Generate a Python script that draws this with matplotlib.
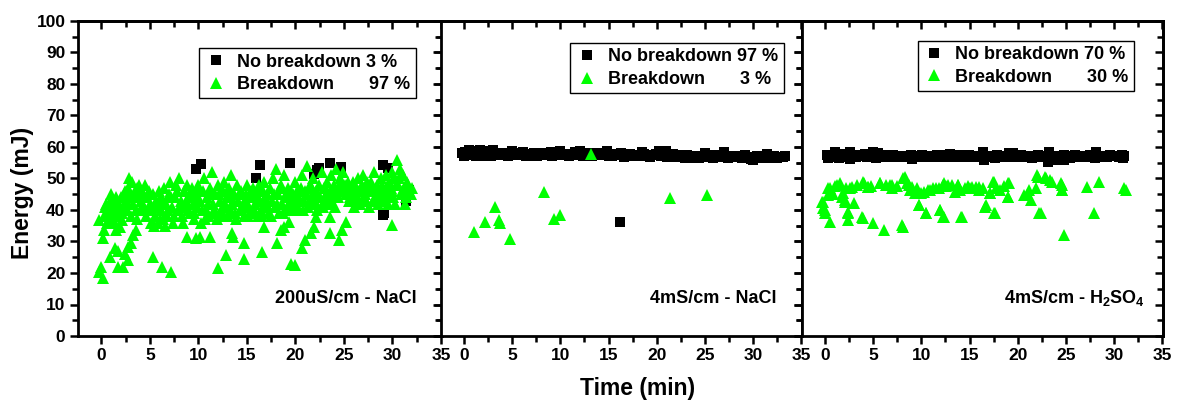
import matplotlib
matplotlib.use("Agg")
import matplotlib.pyplot as plt
from matplotlib.lines import Line2D
from matplotlib.ticker import MultipleLocator

plt.rcParams['font.family'] = ['Liberation Sans', 'DejaVu Sans']
plt.rcParams['font.weight'] = 'bold'
plt.rcParams['mathtext.fontset'] = 'custom'
plt.rcParams['mathtext.rm'] = 'Liberation Sans:bold'
plt.rcParams['mathtext.it'] = 'Liberation Sans:bold'
plt.rcParams['mathtext.bf'] = 'Liberation Sans:bold'
plt.rcParams['mathtext.default'] = 'rm'

# ---------------- Panel 1: 200uS/cm - NaCl ----------------
p1_nobd_x = [9.75, 10.3, 15.9, 16.4, 19.4, 21.9, 22.2, 22.4, 23.6, 24.7, 29.0, 29.5, 29.1, 31.7, 31.4, 29.0]
p1_nobd_y = [52.9, 54.5, 50.2, 54.2, 55.0, 51.5, 52.6, 53.2, 54.8, 53.5, 54.2, 53.2, 38.9, 46.3, 43.0, 38.4]

p1_bd_x = [
    0.3, 0.4, 0.6, 0.7, 0.9, 1.0, 1.1, 1.3, 1.4, 1.6, 1.8, 2.0, 2.2, 2.3, 2.5, 2.6, 2.8, 2.9, 3.0, 3.2,
    3.3, 3.5, 3.6, 3.8, 3.9, 4.1, 4.2, 4.4, 4.5, 4.7, 4.8, 5.0, 5.1, 5.3, 5.5, 5.6, 5.8, 5.9, 6.1, 6.2,
    6.4, 6.5, 6.7, 6.8, 7.0, 7.1, 7.3, 7.4, 7.6, 7.7, 7.9, 8.0, 8.2, 8.3, 8.5, 8.6, 8.8, 9.0, 9.1, 9.3,
    9.4, 9.6, 9.7, 9.9, 10.0, 10.2, 10.3, 10.5, 10.6, 10.8, 10.9, 11.1, 11.2, 11.4, 11.5, 11.7, 11.8, 12.0, 12.2, 12.3,
    12.5, 12.6, 12.8, 12.9, 13.1, 13.2, 13.4, 13.5, 13.7, 13.8, 14.0, 14.1, 14.3, 14.4, 14.6, 14.7, 14.9, 15.0, 15.2, 15.3,
    15.5, 15.6, 15.8, 15.9, 16.1, 16.2, 16.4, 16.5, 16.7, 16.8, 17.0, 17.1, 17.3, 17.4, 17.6, 17.7, 17.9, 18.0, 18.2, 18.3,
    18.5, 18.6, 18.8, 18.9, 19.1, 19.2, 19.4, 19.5, 19.7, 19.8, 20.0, 20.1, 20.3, 20.4, 20.6, 20.7, 20.9, 21.0, 21.2, 21.3,
    21.5, 21.6, 21.8, 21.9, 22.1, 22.2, 22.4, 22.5, 22.7, 22.8, 23.0, 23.1, 23.3, 23.4, 23.6, 23.7, 23.9, 24.0, 24.2, 24.3,
    24.5, 24.6, 24.8, 24.9, 25.1, 25.2, 25.4, 25.5, 25.7, 25.8, 26.0, 26.1, 26.3, 26.4, 26.6, 26.7, 26.9, 27.0, 27.2, 27.3,
    27.5, 27.6, 27.8, 27.9, 28.1, 28.2, 28.4, 28.5, 28.7, 28.8, 29.0, 29.1, 29.3, 29.4, 29.6, 29.7, 29.9, 30.0, 30.2, 30.3,
    30.5, 30.6, 30.8, 30.9, 31.1, 31.2, 31.4, 31.5, 31.7, 31.9, 32.0,
    # second pass through the dense band
    0.5, 0.8, 1.2, 1.5, 1.7, 2.1, 2.4, 2.7, 3.1, 3.4, 3.7, 4.0, 4.3, 4.6, 4.9, 5.2, 5.4, 5.7, 6.0, 6.3,
    6.6, 6.9, 7.2, 7.5, 7.8, 8.1, 8.4, 8.7, 8.9, 9.2, 9.5, 9.8, 10.1, 10.4, 10.7, 11.0, 11.3, 11.6, 11.9, 12.1,
    12.4, 12.7, 13.0, 13.3, 13.6, 13.9, 14.2, 14.5, 14.8, 15.1, 15.4, 15.7, 16.0, 16.3, 16.6, 16.9, 17.2, 17.5, 17.8, 18.1,
    18.4, 18.7, 19.0, 19.3, 19.6, 19.9, 20.2, 20.5, 20.8, 21.1, 21.4, 21.7, 22.0, 22.3, 22.6, 22.9, 23.2, 23.5, 23.8, 24.1,
    24.4, 24.7, 25.0, 25.3, 25.6, 25.9, 26.2, 26.5, 26.8, 27.1, 27.4, 27.7, 28.0, 28.3, 28.6, 28.9, 29.2, 29.5, 29.8, 30.1,
    30.4, 30.7, 31.0, 31.3, 31.6,
    # lower scattered points
    -0.2, 0.2, 0.0, 0.2, 0.3, -0.2, 0.5, 0.9, 1.2, 0.9, 1.4, 1.7, 1.5, 1.9, 2.1, 1.7, 2.2, 2.4, 2.8, 3.1,
    2.8, 3.3, 3.6, 3.7, 5.3, 6.3, 7.2, 8.8, 9.8, 10.2, 11.2, 12.0, 12.8, 13.5, 13.6, 14.7, 14.7, 16.6, 16.8, 18.1,
    18.5, 18.8, 19.3, 19.5, 20.0, 20.7, 21.0, 21.6, 21.9, 22.1, 23.6, 23.6, 24.1, 24.5, 24.8, 25.2, 30.0,
]
p1_bd_y = [
    38, 41, 36, 40, 43, 45, 38, 42, 36, 40, 42, 44, 41, 45, 43, 40, 47, 50, 44, 49,
    42, 46, 40, 44, 48, 43, 46, 41, 48, 44, 40, 42, 36, 45, 38, 43, 36, 46, 40, 44,
    37, 47, 42, 38, 45, 49, 41, 36, 44, 48, 40, 50, 43, 38, 46, 41, 48, 44, 39, 47,
    42, 37, 45, 41, 48, 43, 36, 46, 50, 40, 44, 38, 47, 52, 42, 45, 39, 48, 43, 40,
    46, 49, 41, 44, 38, 47, 51, 42, 45, 39, 48, 43, 40, 46, 42, 38, 45, 48, 41, 44,
    39, 47, 42, 45, 38, 48, 43, 40, 46, 49, 42, 45, 39, 47, 43, 50, 41, 53, 45, 39,
    48, 42, 51, 44, 40, 47, 43, 46, 41, 45, 49, 42, 44, 40, 47, 51, 43, 46, 54, 41,
    48, 44, 50, 42, 46, 40, 48, 44, 52, 41, 47, 45, 49, 42, 46, 51, 44, 48, 53, 45,
    47, 50, 46, 52, 48, 45, 49, 43, 47, 45, 41, 48, 44, 50, 46, 42, 48, 51, 45, 43,
    47, 41, 49, 46, 52, 44, 48, 42, 46, 50, 45, 43, 51, 47, 49, 44, 52, 46, 50, 42,
    56, 48, 53, 45, 51, 47, 44, 49, 46, 45, 47,
    42, 37, 40, 44, 38, 39, 46, 42, 38, 44, 47, 40, 44, 38, 46, 40, 35, 41, 37, 42,
    35, 40, 44, 38, 46, 41, 36, 43, 40, 45, 39, 43, 46, 40, 37, 42, 45, 40, 37, 45,
    38, 42, 46, 40, 43, 37, 45, 40, 43, 38, 46, 40, 43, 46, 38, 44, 41, 38, 45, 42,
    47, 39, 45, 41, 44, 40, 46, 43, 40, 45, 42, 47, 43, 45, 41, 47, 43, 45, 42, 47,
    44, 49, 46, 47, 44, 49, 46, 43, 47, 44, 49, 46, 43, 46, 44, 48, 45, 42, 47, 44,
    48, 50, 46, 42, 48,
    20.4, 18.3, 22.0, 31.0, 33.6, 36.8, 38.0, 25.0, 43.0, 40.0, 28.0, 27.0, 33.6, 34.7, 36.8, 22.0, 22.0, 26.0, 28.3, 29.4,
    24.0, 32.0, 33.6, 37.0, 25.0, 22.0, 20.4, 31.5, 31.0, 31.5, 31.5, 21.5, 25.7, 32.6, 31.5, 29.4, 24.6, 26.7, 34.7, 29.4,
    33.6, 34.7, 36.3, 23.0, 22.5, 27.8, 30.4, 32.6, 34.7, 37.8, 32.6, 37.8, 41.0, 30.4, 33.6, 36.3, 35.2,
]

# ---------------- Panel 2: 4mS/cm - NaCl ----------------
p2_nobd_x = [
    -0.2, 0.1, 0.4, 0.7, 1.0, 1.3, 1.6, 1.9, 2.2, 2.5, 2.8, 3.1, 3.4, 3.7, 4.0, 4.3, 4.6, 4.9, 5.2, 5.5,
    5.8, 6.1, 6.4, 6.7, 7.0, 7.3, 7.6, 7.9, 8.2, 8.5, 8.8, 9.1, 9.4, 9.7, 10.0, 10.3, 10.6, 10.9, 11.2, 11.5,
    11.8, 12.1, 12.4, 12.7, 13.0, 13.3, 13.6, 13.9, 14.2, 14.5, 14.8, 15.1, 15.4, 15.7, 16.0, 16.3, 16.6, 16.9, 17.2, 17.5,
    17.8, 18.1, 18.4, 18.7, 19.0, 19.3, 19.6, 19.9, 20.2, 20.5, 20.8, 21.1, 21.4, 21.7, 22.0, 22.3, 22.6, 22.9, 23.2, 23.5,
    23.8, 24.1, 24.4, 24.7, 25.0, 25.3, 25.6, 25.9, 26.2, 26.5, 26.8, 27.1, 27.4, 27.7, 28.0, 28.3, 28.6, 28.9, 29.2, 29.5,
    29.8, 30.1, 30.4, 30.7, 31.0, 31.3, 31.6, 31.9, 32.2, 32.5, 32.8, 33.1, 33.3,
    0.0, 0.5, 1.2, 2.0, 3.0, 5.0, 7.5, 9.0, 12.0, 15.0, 18.5, 21.0, 24.0, 27.0, 30.0, 31.5, 16.2,
]
p2_nobd_y = [
    58.0, 58.5, 57.5, 58.2, 57.8, 58.6, 58.9, 57.0, 57.6, 58.3, 57.2, 57.8, 58.0, 57.4, 57.9, 58.2, 57.1, 57.7, 58.1, 57.5,
    57.9, 58.3, 57.3, 57.8, 57.6, 58.0, 57.2, 57.7, 58.2, 57.5, 57.9, 57.3, 58.1, 57.6, 58.8, 57.4, 57.9, 57.2, 57.7, 58.4,
    57.5, 57.9, 57.3, 57.8, 58.0, 57.2, 57.6, 58.2, 57.8, 57.4, 58.6, 57.7, 57.3, 57.9, 57.5, 58.0, 56.9, 57.4, 57.8, 57.2,
    57.6, 57.1, 57.5, 57.9, 57.3, 56.8, 57.4, 57.7, 58.7, 57.2, 57.6, 56.7, 57.3, 57.8, 56.9, 57.4, 57.0, 56.6, 57.5, 57.2,
    56.8, 57.3, 56.5, 57.1, 58.2, 56.9, 57.4, 56.6, 57.0, 57.6, 56.8, 57.2, 56.4, 57.0, 57.3, 56.7, 57.1, 56.5, 57.4, 56.8,
    56.3, 56.9, 57.2, 56.4, 56.8, 57.1, 56.6, 56.9, 57.0, 56.5, 56.8, 56.9, 57.0,
    57.0, 59.0, 57.2, 58.8, 59.0, 58.6, 57.0, 58.5, 58.7, 57.0, 58.4, 58.7, 56.4, 58.3, 55.8, 57.8, 36.1,
]
p2_bd_x = [1.07, 2.14, 3.24, 3.59, 3.7, 4.73, 8.35, 9.39, 10.0, 13.2, 21.4, 25.2]
p2_bd_y = [33.1, 36.3, 40.8, 36.8, 36.0, 30.9, 45.8, 37.0, 38.4, 57.8, 43.7, 44.8]

# ---------------- Panel 3: 4mS/cm - H2SO4 ----------------
p3_nobd_x = [
    0.2, 0.5, 0.8, 1.1, 1.4, 1.7, 2.0, 2.3, 2.6, 2.9, 3.2, 3.5, 3.8, 4.1, 4.4, 4.7, 5.0, 5.3, 5.6, 5.9,
    6.2, 6.5, 6.8, 7.1, 7.4, 7.7, 8.0, 8.3, 8.6, 8.9, 9.2, 9.5, 9.8, 10.1, 10.4, 10.7, 11.0, 11.3, 11.6, 11.9,
    12.2, 12.5, 12.8, 13.1, 13.4, 13.7, 14.0, 14.3, 14.6, 14.9, 15.2, 15.5, 15.8, 16.1, 16.4, 16.7, 17.0, 17.3, 17.6, 17.9,
    18.2, 18.5, 18.8, 19.1, 19.4, 19.7, 20.0, 20.3, 20.6, 20.9, 21.2, 21.5, 21.8, 22.1, 22.4, 22.7, 23.0, 23.3, 23.6, 23.9,
    24.2, 24.5, 24.8, 25.1, 25.4, 25.7, 26.0, 26.3, 26.6, 26.9, 27.2, 27.5, 27.8, 28.1, 28.4, 28.7, 29.0, 29.3, 29.6, 29.9,
    30.2, 30.5, 30.8, 31.1,
    0.3, 1.0, 2.6, 5.5, 9.0, 13.0, 16.5, 19.5, 23.2, 24.8, 28.0, 30.9,
]
p3_nobd_y = [
    57.5, 56.8, 57.3, 57.9, 56.6, 57.2, 57.7, 56.9, 58.3, 57.4, 56.8, 57.6, 57.1, 57.8, 56.7, 57.3, 58.5, 56.5, 57.2, 56.9,
    57.6, 57.0, 56.8, 57.4, 57.1, 56.7, 57.3, 57.0, 56.8, 57.5, 56.9, 57.2, 56.7, 57.4, 57.0, 56.8, 57.3, 56.9, 57.6, 57.1,
    56.8, 57.4, 57.0, 56.7, 57.3, 56.9, 57.5, 57.1, 56.8, 57.4, 57.0, 56.7, 57.2, 56.9, 58.5, 57.3, 56.8, 57.1, 56.6, 57.4,
    57.0, 56.8, 57.3, 58.2, 56.9, 57.2, 56.7, 57.4, 57.0, 56.8, 57.3, 56.6, 57.1, 57.5, 56.8, 57.2, 56.9, 58.5, 57.3, 55.8,
    57.1, 56.7, 57.4, 57.0, 56.6, 57.2, 57.5, 56.9, 57.3, 57.0, 56.8, 57.4, 57.1, 58.4, 57.3, 56.9, 57.2, 56.8, 57.5, 57.0,
    57.3, 56.8, 57.6, 57.0,
    56.5, 58.4, 56.2, 58.0, 56.3, 57.9, 55.9, 58.2, 55.3, 56.0, 56.5, 56.4,
]
p3_bd_x = [
    -0.17, -0.17, 0.0, 0.5, 0.3, 0.5, 1.2, 1.5, 1.9, 2.1, 2.4, 2.4, 2.8, 3.0, 3.9, 3.9, 4.5, 5.0, 5.7, 6.1,
    6.7, 7.0, 8.1, 8.3, 8.5, 8.8, 9.3, 9.8, 10.3, 10.5, 10.9, 11.5, 11.9, 12.3, 12.3, 12.8, 13.5, 13.8, 14.2, 14.5,
    15.7, 16.4, 16.6, 17.1, 17.5, 17.5, 18.2, 19.0, 19.1, 20.7, 21.2, 21.4, 22.0, 22.2, 22.8, 23.4, 24.5, 24.6, 24.8, 27.2,
    27.9, 28.4, 31.0, 31.3,
    0.35, 1.55, 2.6, 4.0, 4.5, 5.7, 6.9, 8.1, 9.0, 9.6, 10.7, 11.2, 12.2, 13.8, 15.3, -0.35, 0.0, 2.1, 2.4, 3.8,
    8.0, 9.8, 10.5, 11.9, 12.2, 14.1, 16.0, 17.4, 17.1, 19.0, 19.0, 16.7, 17.6, 21.0, 21.9, 22.1, 22.9, 23.6, 24.6, 24.6,
    22.4,
    1.0, 2.2, 3.3, 4.8, 6.3, 7.5, 9.5, 10.0, 11.8, 12.6, 13.2, 14.0, 14.8, 15.0, 16.0, 17.8, 18.6, 0.8, 1.8, 8.7,
]
p3_bd_y = [
    42.6, 40.5, 38.9, 36.3, 44.8, 46.9, 47.9, 48.5, 45.3, 43.2, 38.9, 36.8, 47.4, 42.2, 49.0, 37.4, 47.4, 35.8, 48.5, 33.7,
    47.9, 46.9, 34.7, 50.5, 48.5, 46.4, 45.3, 41.6, 45.8, 38.9, 46.4, 46.9, 40.0, 37.9, 48.5, 47.9, 45.8, 47.9, 37.9, 46.9,
    47.4, 46.9, 41.1, 45.3, 49.0, 38.9, 46.4, 44.2, 48.5, 44.8, 46.4, 43.2, 51.1, 38.9, 50.5, 49.5, 48.5, 46.4, 32.1, 47.4,
    38.9, 49.0, 46.9, 46.4,
    46.9, 47.9, 46.9, 48.5, 47.4, 48.5, 47.9, 50.1, 47.4, 45.3, 46.3, 46.9, 47.9, 47.9, 47.4, 42.6, 40.0, 42.6, 39.5, 37.9,
    35.2, 41.6, 39.0, 40.0, 37.9, 37.9, 47.4, 49.0, 45.3, 48.5, 44.2, 41.6, 39.0, 44.8, 46.9, 50.6, 50.1, 49.0, 47.9, 46.3,
    39.0,
    47.5, 47.0, 48.0, 47.5, 48.0, 47.5, 47.0, 45.5, 47.0, 47.5, 48.0, 46.5, 47.5, 47.0, 46.5, 47.0, 47.5, 45.0, 44.0, 48.0,
]

panels = [
    dict(nx=p1_nobd_x, ny=p1_nobd_y, bx=p1_bd_x, by=p1_bd_y,
         labels=["No breakdown 3 %", "Breakdown       97 %"],
         title="200uS/cm - NaCl", leg_anchor=(0.928, 0.914), txt_x=0.930),
    dict(nx=p2_nobd_x, ny=p2_nobd_y, bx=p2_bd_x, by=p2_bd_y,
         labels=["No breakdown 97 %", "Breakdown       3 %"],
         title="4mS/cm - NaCl", leg_anchor=(0.950, 0.930), txt_x=0.928),
    dict(nx=p3_nobd_x, ny=p3_nobd_y, bx=p3_bd_x, by=p3_bd_y,
         labels=["No breakdown 70 %", "Breakdown       30 %"],
         title="4mS/cm - H$_2$SO$_4$", leg_anchor=(0.920, 0.937), txt_x=0.950),
]

fig = plt.figure(figsize=(11.77, 4.08), dpi=100)
W, H = 1177.0, 408.0
lefts = [78, 441, 802]
rights = [442, 802, 1163]
bottom_px, top_px = 336, 21
GREEN = '#00ff00'
SQ_MS = 7.2
TRI_MS = 8.8

for i, p in enumerate(panels):
    ax = fig.add_axes([lefts[i] / W, 1 - bottom_px / H, (rights[i] - lefts[i]) / W, (bottom_px - top_px) / H])
    ax.plot(p['nx'], p['ny'], linestyle='none', marker='s', ms=SQ_MS, mfc='black', mec='black', mew=0, zorder=2)
    ax.plot(p['bx'], p['by'], linestyle='none', marker='^', ms=TRI_MS, mfc=GREEN, mec=GREEN, mew=0, zorder=3)
    ax.set_xlim(-2.4, 35.1)
    ax.set_ylim(0, 100)
    ax.xaxis.set_major_locator(MultipleLocator(5))
    ax.xaxis.set_minor_locator(MultipleLocator(2.5))
    ax.yaxis.set_major_locator(MultipleLocator(10))
    ax.yaxis.set_minor_locator(MultipleLocator(5))
    for s in ax.spines.values():
        s.set_linewidth(2.0)
    ax.tick_params(axis='both', which='both', width=1.8)
    ax.tick_params(axis='x', which='both', bottom=True, top=False, direction='out')
    ax.tick_params(axis='y', which='both', left=True, right=False, direction='out')
    ax.tick_params(which='major', length=6)
    ax.tick_params(which='minor', length=4)
    ax.tick_params(labelsize=12.5, pad=3)
    # inward ticks on top and right
    sec = ax.secondary_xaxis('top')
    sec.xaxis.set_major_locator(MultipleLocator(5))
    sec.xaxis.set_minor_locator(MultipleLocator(2.5))
    sec.tick_params(which='both', direction='in', width=1.8, labeltop=False)
    sec.tick_params(which='major', length=6)
    sec.tick_params(which='minor', length=4)
    sec.spines['top'].set_linewidth(2.0)
    sec2 = ax.secondary_yaxis('right')
    sec2.yaxis.set_major_locator(MultipleLocator(10))
    sec2.yaxis.set_minor_locator(MultipleLocator(5))
    sec2.tick_params(which='both', direction='in', width=1.8, labelright=False)
    sec2.tick_params(which='major', length=6)
    sec2.tick_params(which='minor', length=4)
    sec2.spines['right'].set_linewidth(2.0)
    for lab in ax.get_xticklabels() + ax.get_yticklabels():
        lab.set_fontweight('bold')
    if i > 0:
        ax.tick_params(axis='y', labelleft=False)

    handles = [Line2D([], [], linestyle='none', marker='s', ms=SQ_MS, mfc='black', mec='black', mew=0),
               Line2D([], [], linestyle='none', marker='^', ms=TRI_MS, mfc=GREEN, mec=GREEN, mew=0)]
    leg = ax.legend(handles, p['labels'], loc='upper right', bbox_to_anchor=p['leg_anchor'],
                    borderaxespad=0, fancybox=False, frameon=True, framealpha=1,
                    edgecolor='black', prop={'size': 13, 'weight': 'bold'},
                    handlelength=1.2, handletextpad=0.6, borderpad=0.3, labelspacing=0.3)
    leg.get_frame().set_linewidth(1.0)
    ax.text(p['txt_x'], 0.12, p['title'], transform=ax.transAxes, ha='right', va='center',
            fontsize=13, fontweight='bold')

fig.text(23 / W, 1 - 193 / H, 'Energy (mJ)', rotation=90, ha='center', va='center',
         fontsize=16.5, fontweight='bold')
fig.text(638 / W, 1 - 388 / H, 'Time (min)', ha='center', va='center',
         fontsize=16.5, fontweight='bold')

fig.savefig('out.png', dpi=100)
